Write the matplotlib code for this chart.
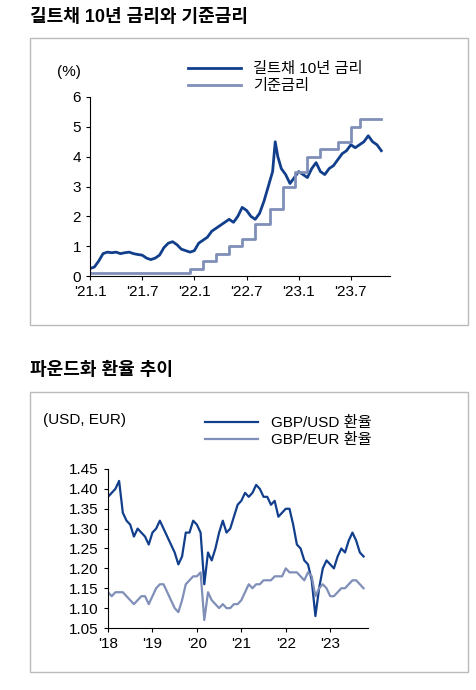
import matplotlib
matplotlib.use("Agg")
import matplotlib.pyplot as plt
from matplotlib.patches import Rectangle
import numpy as np

plt.rcParams['font.family'] = ['Liberation Sans', 'Noto Sans CJK KR']

# Panel 1: months since Jan 2021
gilt_t = [0,0.5,1,1.5,2,2.5,3,3.5,4,4.5,5,5.5,6,6.5,7,7.5,8,8.5,9,9.5,10,10.5,11,11.5,
          12,12.5,13,13.5,14,14.5,15,15.5,16,16.5,17,17.5,18,18.5,19,19.5,20,20.3,20.6,21,21.3,21.6,22,22.5,
          23,23.5,24,24.5,25,25.5,26,26.5,27,27.5,28,28.5,29,29.5,30,30.5,31,31.5,32,32.5,33,33.5]
gilt_v = [0.25,0.3,0.5,0.75,0.8,0.78,0.8,0.75,0.78,0.8,0.75,0.72,0.7,0.6,0.55,0.6,0.7,0.95,1.1,1.15,1.05,0.9,0.85,0.8,
          0.85,1.1,1.2,1.3,1.5,1.6,1.7,1.8,1.9,1.8,2.0,2.3,2.2,2.0,1.9,2.1,2.5,2.8,3.1,3.5,4.5,4.0,3.6,3.4,
          3.1,3.3,3.5,3.4,3.3,3.6,3.8,3.5,3.4,3.6,3.7,3.9,4.1,4.2,4.4,4.3,4.4,4.5,4.7,4.5,4.4,4.2]
rate_t = [0,11.5,13,14.5,16,17.5,19,20.7,22.2,23.6,25,26.5,28.5,30,31,33.5]
rate_v = [0.1,0.25,0.5,0.75,1.0,1.25,1.75,2.25,3.0,3.5,4.0,4.25,4.5,5.0,5.25,5.25]
x1_ticks = [0,6,12,18,24,30]
x1_labels = ["'21.1","'21.7","'22.1","'22.7","'23.1","'23.7"]

# Panel 2: monthly, years since 2018
gbpusd = [1.38,1.39,1.40,1.42,1.34,1.32,1.31,1.28,1.30,1.29,1.28,1.26,
          1.29,1.30,1.32,1.30,1.28,1.26,1.24,1.21,1.23,1.29,1.29,1.32,
          1.31,1.29,1.16,1.24,1.22,1.25,1.29,1.32,1.29,1.30,1.33,1.36,
          1.37,1.39,1.38,1.39,1.41,1.40,1.38,1.38,1.36,1.37,1.33,1.34,
          1.35,1.35,1.31,1.26,1.25,1.22,1.21,1.17,1.08,1.15,1.20,1.22,
          1.21,1.20,1.23,1.25,1.24,1.27,1.29,1.27,1.24,1.23]
gbpeur = [1.14,1.13,1.14,1.14,1.14,1.13,1.12,1.11,1.12,1.13,1.13,1.11,
          1.13,1.15,1.16,1.16,1.14,1.12,1.10,1.09,1.12,1.16,1.17,1.18,
          1.18,1.19,1.07,1.14,1.12,1.11,1.10,1.11,1.10,1.10,1.11,1.11,
          1.12,1.14,1.16,1.15,1.16,1.16,1.17,1.17,1.17,1.18,1.18,1.18,
          1.20,1.19,1.19,1.19,1.18,1.17,1.19,1.18,1.13,1.15,1.16,1.15,
          1.13,1.13,1.14,1.15,1.15,1.16,1.17,1.17,1.16,1.15]
x2_ticks = [0,1,2,3,4,5]
x2_labels = ["'18","'19","'20","'21","'22","'23"]

dark = '#123f8c'
light = '#7f8fb8'
W, H = 477, 690
fig = plt.figure(figsize=(4.77, 6.90), dpi=100)

def ax_at(l, t, r, b):
    return fig.add_axes([l/W, 1-b/H, (r-l)/W, (b-t)/H])

def box(l, t, r, b):
    fig.patches.append(Rectangle((l/W, 1-b/H), (r-l)/W, (b-t)/H, transform=fig.transFigure,
                                 fill=False, edgecolor='#bbbbbb', lw=1))

fig.text(30/W, 1-18/H, '길트채 10년 금리와 기준금리', fontsize=13, fontweight='bold', va='center')
box(30, 38, 468, 325)
fig.text(30/W, 1-370/H, '파운드화 환율 추이', fontsize=13, fontweight='bold', va='center')
box(30, 392, 468, 672)

def style(ax):
    for s in ['top', 'right']:
        ax.spines[s].set_visible(False)
    ax.tick_params(labelsize=11, direction='out', length=3)

ax1 = ax_at(90, 97, 390, 276)
ax1.plot(gilt_t, gilt_v, color=dark, lw=2, label='길트채 10년 금리')
ax1.step(rate_t, rate_v, where='post', color=light, lw=2, label='기준금리')
ax1.set_ylim(0, 6); ax1.set_yticks(range(7))
ax1.set_xlim(0, 34.5)
ax1.set_xticks(x1_ticks); ax1.set_xticklabels(x1_labels)
style(ax1)
ax1.text(-0.11, 1.14, '(%)', transform=ax1.transAxes, fontsize=11, va='center')
ax1.legend(loc='upper left', bbox_to_anchor=(0.28, 1.27), frameon=False, fontsize=11,
           handlelength=3.5, labelspacing=0.2)

ax2 = ax_at(108, 469, 368, 628)
xm = np.arange(len(gbpusd)) / 12
ax2.plot(xm, gbpusd, color=dark, lw=1.6, label='GBP/USD 환율')
ax2.plot(xm, gbpeur, color=light, lw=1.6, label='GBP/EUR 환율')
ax2.set_ylim(1.05, 1.45)
ax2.set_yticks(np.arange(1.05, 1.451, 0.05))
ax2.set_yticklabels([f'{v:.2f}' for v in np.arange(1.05, 1.451, 0.05)])
ax2.set_xlim(0, 5.85)
ax2.set_xticks(x2_ticks); ax2.set_xticklabels(x2_labels)
style(ax2)
ax2.text(-0.25, 1.31, '(USD, EUR)', transform=ax2.transAxes, fontsize=11, va='center')
ax2.legend(loc='upper left', bbox_to_anchor=(0.32, 1.42), frameon=False, fontsize=11,
           handlelength=3.5, labelspacing=0.2)

fig.savefig('out.png', dpi=100)
